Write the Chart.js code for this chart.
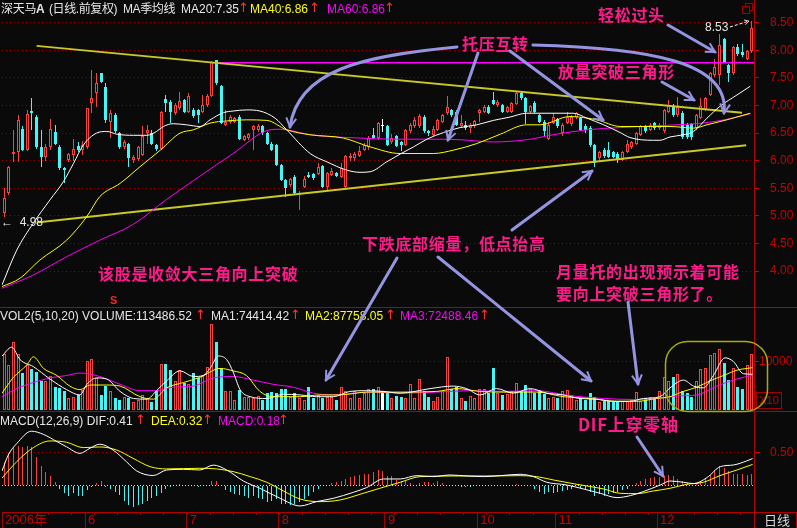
<!DOCTYPE html>
<html>
<head>
<meta charset="utf-8">
<script src="https://cdn.jsdelivr.net/npm/chart.js@4.4.1/dist/chart.umd.min.js"></script>
<style>
  html, body { margin: 0; padding: 0; background: #0a0a0a; width: 797px; height: 528px; overflow: hidden; }
  #wrap { position: relative; width: 797px; height: 528px; }
  canvas { position: absolute; left: 0; }
  .t { position: absolute; white-space: pre; font: 12px "Liberation Sans", "Noto Sans CJK SC", sans-serif; line-height: 14px; color: #e6e6e6; }
  .up { color: #ff3030; font: 13px "DejaVu Sans", sans-serif; line-height: 14px; }
  .ann { position: absolute; white-space: pre; font: bold 16px "Noto Sans CJK SC", sans-serif; line-height: 17px; letter-spacing: 0.7px; color: #ff1a8c; }
  .hl { position: absolute; left: 0; width: 797px; height: 1px; background: #b40000; }
  svg { position: absolute; left: 0; top: 0; }
</style>
</head>
<body>
<div id="wrap">
  <canvas id="price" width="797" height="307" style="top:0"></canvas>
  <canvas id="vol" width="797" height="105" style="top:307px"></canvas>
  <canvas id="macd" width="797" height="116" style="top:412px"></canvas>

  <div class="hl" style="top:307px"></div>
  <div class="hl" style="top:411px"></div>
  <div style="position:absolute;left:754px;top:0;width:1px;height:528px;background:#b40000"></div>
  <div style="position:absolute;left:755px;top:512px;width:41px;height:15px;border-top:1px solid #b40000;border-right:1px solid #b40000"></div>

  <!-- price panel title -->
  <div class="t" style="left:1px;top:2px;letter-spacing:-0.3px">深天马<b>A</b></div>
  <div class="t" style="left:49px;top:2px;letter-spacing:-0.4px">(日线.前复权)</div>
  <div class="t" style="left:123px;top:2px;letter-spacing:-0.4px">MA季均线</div>
  <div class="t" style="left:181px;top:2px">MA20:7.35</div>
  <div class="t up" style="left:238px;top:1px">↑</div>
  <div class="t" style="left:250px;top:2px;color:#ffff00">MA40:6.86</div>
  <div class="t up" style="left:309px;top:1px">↑</div>
  <div class="t" style="left:327px;top:2px;color:#ff00ff">MA60:6.86</div>
  <div class="t up" style="left:384px;top:1px">↑</div>

  <!-- volume panel title -->
  <div class="t" style="left:0px;top:309px">VOL2(5,10,20) VOLUME:113486.52</div>
  <div class="t up" style="left:195px;top:308px">↑</div>
  <div class="t" style="left:211px;top:309px">MA1:74414.42</div>
  <div class="t up" style="left:290px;top:308px">↑</div>
  <div class="t" style="left:305px;top:309px;color:#ffff00">MA2:87758.05</div>
  <div class="t up" style="left:385px;top:308px">↑</div>
  <div class="t" style="left:400px;top:309px;color:#ff00ff">MA3:72488.46</div>
  <div class="t up" style="left:479px;top:308px">↑</div>

  <!-- macd panel title -->
  <div class="t" style="left:0px;top:414px">MACD(12,26,9) DIF:0.41</div>
  <div class="t up" style="left:135px;top:413px">↑</div>
  <div class="t" style="left:151px;top:414px;color:#ffff00">DEA:0.32</div>
  <div class="t up" style="left:202px;top:413px">↑</div>
  <div class="t" style="left:218px;top:414px;color:#ff00ff">MACD:0.18</div>
  <div class="t up" style="left:278px;top:413px">↑</div>

  <div class="t" style="left:1px;top:215px">←  4.98</div>
  <div class="t" style="left:705px;top:20px">8.53</div>
  <div class="t" style="left:110px;top:293px;color:#ff2020;font-weight:bold;font-size:11px">S</div>
  <div class="t" style="left:756px;top:392px;width:24px;height:15px;border:1px solid #a00000;color:#c00000;font-size:11px;line-height:15px;text-align:center">X10</div>
  <div class="t" style="left:764px;top:513px;color:#d8d8d8;font-size:13px;line-height:15px">日线</div>

  <!-- annotations -->
  <div class="ann" style="left:598px;top:6px">轻松过头</div>
  <div class="ann" style="left:462px;top:35px">托压互转</div>
  <div class="ann" style="left:558px;top:63px">放量突破三角形</div>
  <div class="ann" style="left:98px;top:265px">该股是收敛大三角向上突破</div>
  <div class="ann" style="left:362px;top:235px">下跌底部缩量，低点抬高</div>
  <div class="ann" style="left:556px;top:263px">月量托的出现预示着可能</div>
  <div class="ann" style="left:556px;top:285px">要向上突破三角形了。</div>
  <div class="ann" style="left:578px;top:415px;font-size:17px">DIF上穿零轴</div>

  <svg width="797" height="528">
    <defs>
      <marker id="ah" viewBox="0 0 12 12" refX="10" refY="6" markerWidth="4" markerHeight="4" orient="auto">
        <path d="M1,1 L10,6 L1,11" fill="none" stroke="#9494e0" stroke-width="2"/>
      </marker>
      <marker id="ahw" viewBox="0 0 12 12" refX="10" refY="6" markerWidth="6" markerHeight="6" orient="auto">
        <path d="M1,1 L10,6 L1,11" fill="none" stroke="#ffffff" stroke-width="1.5"/>
      </marker>
    </defs>
    <g fill="none" stroke="#9494e0" stroke-width="3" stroke-linecap="round" marker-end="url(#ah)">
      <path d="M457,47 C362,56 298,70 290,127"/>
      <path d="M478,53 L448,140"/>
      <path d="M510,51 L603,120"/>
      <path d="M533,45 C650,48 730,62 724,113"/>
      <path d="M668,25 L715,52"/>
      <path d="M662,82 L694,100"/>
      <path d="M512,230 L592,171"/>
      <path d="M397,258 L326,380"/>
      <path d="M438,257 L591,381"/>
      <path d="M628,302 L638,384"/>
      <path d="M637,437 L663,476"/>
    </g>
    <path d="M730,27 L749,21" stroke="#ffffff" stroke-width="1" stroke-dasharray="3,2" fill="none" marker-end="url(#ahw)"/>
    <rect x="665.5" y="341.5" width="102" height="70" rx="22" ry="22" fill="none" stroke="#aaaa10" stroke-width="1.5"/>
    <rect x="745.5" y="3.5" width="7" height="7" fill="none" stroke="#a00000"/>
    <rect x="742.5" y="6.5" width="7" height="7" fill="#0a0a0a" stroke="#a00000"/>
  </svg>
</div>

<script>
// ---- daily candles, 2006-05 .. 2006-12 ----
const candleOpen = [
  5.05,5.41,6.12,6.16,6.57,6.20,6.90,6.80,6.24,6.07,
  6.25,6.52,6.25,5.86,6.02,6.10,6.27,6.20,6.25,7.04,
  7.22,7.58,7.34,6.71,6.83,6.50,6.25,6.31,6.01,6.03,
  6.10,6.50,6.50,6.28,6.22,7.11,7.07,6.86,6.95,7.10,
  6.89,6.92,6.92,6.89,7.01,7.17,7.82,7.35,6.65,6.71,
  6.71,6.80,6.37,6.41,6.56,6.56,6.62,6.50,6.31,6.28,
  5.92,5.65,5.56,5.71,5.40,5.53,5.74,5.76,5.76,5.90,
  5.53,5.74,5.77,5.71,5.53,6.04,6.04,6.08,6.19,6.25,
  6.47,6.41,6.63,6.63,6.33,6.45,6.34,6.28,6.53,6.62,
  6.62,6.80,6.54,6.47,6.56,6.71,6.86,6.92,6.89,6.62,
  6.65,6.59,6.62,6.87,6.89,6.98,7.10,7.01,7.00,6.89,
  6.89,7.03,7.22,7.13,6.89,7.05,6.83,6.71,6.40,6.69,
  6.75,6.51,6.69,6.66,6.80,6.77,6.62,6.59,6.28,6.04,
  6.20,6.20,6.16,6.13,6.01,6.16,6.25,6.30,6.46,6.62,
  6.56,6.68,6.59,6.53,6.89,6.99,6.83,6.87,6.65,6.66,
  6.59,6.77,6.92,7.19,7.55,7.55,8.20,7.73,7.58,8.06,
  7.97,7.85,7.99
];
const candleHigh = [
  5.50,5.90,6.55,6.82,6.62,6.92,7.13,6.82,6.56,6.30,
  6.76,6.65,6.28,5.88,6.14,6.40,6.33,6.35,6.95,7.65,
  7.58,7.58,7.40,6.92,6.86,6.52,6.38,6.32,6.10,6.27,
  6.62,6.65,6.56,6.30,6.90,7.19,7.10,7.04,7.25,7.12,
  7.22,6.95,6.93,7.19,7.20,7.80,7.82,7.38,6.92,6.82,
  6.79,6.82,6.47,6.50,6.65,6.66,6.64,6.52,6.33,6.30,
  5.94,5.67,5.68,5.75,5.45,5.72,5.80,5.78,5.95,5.93,
  5.80,5.86,5.79,5.95,6.10,6.14,6.16,6.26,6.32,6.45,
  6.60,6.70,6.75,6.65,6.48,6.47,6.36,6.58,6.68,6.80,
  6.85,6.82,6.56,6.62,6.76,6.85,7.17,6.94,6.92,6.82,
  6.72,6.68,6.74,6.94,7.00,7.00,7.25,7.10,7.02,6.99,
  7.06,7.24,7.26,7.15,7.00,7.08,6.85,6.73,6.70,6.86,
  6.78,6.68,6.88,6.82,6.88,6.80,6.66,6.62,6.30,6.18,
  6.23,6.34,6.18,6.15,6.18,6.37,6.36,6.52,6.65,6.64,
  6.68,6.70,6.68,6.94,7.10,7.02,7.16,6.90,6.68,6.68,
  6.85,7.13,7.15,7.60,7.85,8.30,8.22,7.76,8.08,8.12,
  8.12,8.00,8.53
];
const candleLow = [
  4.98,5.38,5.98,5.98,6.18,6.18,6.56,6.22,5.89,6.00,
  6.20,6.28,5.84,5.59,5.98,6.00,6.15,6.10,6.22,6.86,
  6.98,7.40,6.68,6.41,6.50,6.22,6.22,5.89,5.96,6.00,
  6.08,6.30,6.28,6.18,6.20,6.89,6.68,6.83,6.92,6.86,
  6.86,6.78,6.68,6.86,6.98,7.15,7.38,6.66,6.62,6.66,
  6.68,6.38,6.35,6.38,6.19,6.52,6.47,6.28,6.17,5.90,
  5.63,5.34,5.53,5.38,5.11,5.50,5.68,5.65,5.74,5.50,
  5.45,5.72,5.70,5.68,5.50,6.00,6.00,6.06,6.17,6.20,
  6.40,6.38,6.52,6.26,6.30,6.25,6.18,6.26,6.50,6.60,
  6.60,6.50,6.45,6.45,6.54,6.69,6.83,6.80,6.62,6.60,
  6.55,6.50,6.60,6.70,6.86,6.85,7.00,6.98,6.87,6.87,
  6.87,7.00,7.10,6.66,6.86,6.87,6.69,6.45,6.38,6.67,
  6.60,6.45,6.66,6.62,6.76,6.54,6.50,6.25,5.89,5.98,
  6.05,6.04,6.05,5.95,5.99,6.14,6.22,6.28,6.44,6.51,
  6.54,6.56,6.56,6.50,6.86,6.80,6.80,6.40,6.40,6.38,
  6.56,6.75,6.90,7.17,7.52,7.37,7.77,7.43,7.56,7.90,
  7.88,7.82,7.95
];
const candleClose = [
  5.32,5.89,6.16,6.74,6.20,6.85,6.86,6.24,6.07,6.24,
  6.58,6.31,5.86,5.83,6.12,6.22,6.20,6.28,6.95,7.13,
  7.41,7.43,6.74,6.86,6.53,6.25,6.34,6.04,6.07,6.25,
  6.45,6.56,6.31,6.22,6.89,7.05,6.89,7.01,7.09,6.89,
  7.18,6.81,6.83,7.01,7.17,7.79,7.40,6.68,6.71,6.79,
  6.77,6.40,6.45,6.48,6.63,6.63,6.50,6.31,6.19,5.92,
  5.65,5.50,5.66,5.41,5.42,5.66,5.70,5.68,5.88,5.53,
  5.78,5.81,5.72,5.87,6.08,6.08,6.13,6.18,6.28,6.42,
  6.41,6.68,6.63,6.28,6.42,6.27,6.28,6.56,6.64,6.74,
  6.81,6.53,6.50,6.57,6.74,6.83,6.97,6.83,6.65,6.69,
  6.60,6.65,6.72,6.92,6.98,6.87,7.03,7.07,6.89,6.97,
  7.04,7.22,7.13,6.89,6.99,6.89,6.71,6.53,6.65,6.80,
  6.62,6.65,6.79,6.80,6.86,6.56,6.56,6.28,5.95,6.16,
  6.08,6.06,6.07,6.01,6.16,6.31,6.34,6.50,6.62,6.53,
  6.65,6.59,6.65,6.92,7.01,6.83,6.98,6.43,6.43,6.43,
  6.83,6.99,7.13,7.58,7.70,8.10,7.79,7.58,8.06,7.93,
  7.91,7.99,8.40
];
const volume = [
  115000,93500,140600,115000,76800,93500,84800,79000,60900,60900,
  71700,47800,46400,40600,26100,28300,31900,42800,100700,105800,
  66700,31900,50000,39100,24600,21000,28300,24600,17400,22500,
  31900,24600,17400,39100,95700,95700,82600,60900,82600,57200,
  53600,76800,66700,71700,89900,176800,140600,86200,39100,39100,
  21000,42800,28300,28300,24600,30400,21000,35500,37700,35500,
  44900,44900,28300,35500,24600,21000,47800,24600,31900,24600,
  28300,28300,21000,47800,39100,24600,39100,24600,35500,44900,
  44900,47800,39100,35500,24600,30000,28000,24600,53600,26100,
  64500,39100,28300,18800,28300,39100,110100,44900,47800,24600,
  18800,29700,24600,44900,44900,35500,86200,35500,31900,33300,
  39100,57200,39100,52200,44900,35500,42800,33300,24600,28300,
  24600,39100,42800,31900,21000,24600,21000,35500,28300,17400,
  18800,18800,17400,17400,18800,18800,21000,37700,18800,24600,
  28300,26100,39100,68100,60900,69600,75400,40600,35500,28300,
  60900,84100,86200,113000,118800,126000,97800,62300,86200,47800,
  44900,92800,115200
];
const macdBar = [
  0.36,0.49,0.57,0.61,0.59,0.61,0.58,0.44,0.30,0.21,
  0.15,0.05,-0.05,-0.12,-0.16,-0.12,-0.16,-0.17,-0.07,-0.02,
  0.03,0.06,-0.02,-0.05,-0.11,-0.15,-0.24,-0.30,-0.33,-0.30,
  -0.28,-0.24,-0.20,-0.16,-0.12,-0.05,-0.02,-0.01,0.02,0.01,
  0.01,0.00,-0.02,0.01,0.01,0.07,0.07,0.01,-0.07,-0.11,
  -0.14,-0.15,-0.17,-0.19,-0.17,-0.19,-0.21,-0.25,-0.24,-0.21,
  -0.28,-0.29,-0.30,-0.28,-0.25,-0.21,-0.16,-0.11,-0.05,-0.01,
  0.01,0.03,0.05,0.06,0.10,0.13,0.15,0.16,0.18,0.18,
  0.21,0.24,0.22,0.15,0.15,0.08,0.07,0.06,0.03,0.01,
  0.03,0.05,0.05,0.03,0.06,0.04,0.01,0.00,0.00,-0.02,
  -0.02,-0.02,-0.01,0.00,0.00,0.00,0.01,0.00,0.00,0.01,
  0.00,0.02,0.00,0.00,-0.01,-0.05,-0.10,-0.14,-0.11,-0.12,
  -0.11,-0.09,-0.07,-0.05,-0.01,-0.04,-0.07,-0.11,-0.16,-0.14,
  -0.16,-0.14,-0.12,-0.11,-0.07,-0.05,-0.01,0.03,0.07,0.10,
  0.11,0.12,0.13,0.15,0.16,0.15,0.10,0.06,0.03,0.01,
  0.03,0.07,0.11,0.16,0.24,0.29,0.27,0.22,0.18,0.18,
  0.17,0.16,0.18
];

// moving-average lines as [candle index, value]
const ma20Price = [[-0.5,3.75],[2.7,4.38],[6.3,4.87],[9.9,5.29],[12.8,5.62],[15.0,5.95],[17.1,6.28],[20.0,6.50],[22.2,6.53],[24.4,6.48],[28.0,6.46],[30.9,6.46],[33.0,6.53],[34.5,6.62],[36.6,6.67],[39.5,6.65],[42.4,6.62],[44.6,6.74],[47.5,6.87],[49.6,6.90],[52.5,6.92],[55.4,6.90],[58.7,6.77],[61.2,6.56],[66.3,6.13],[69.9,5.98],[74.2,5.83],[77.1,5.79],[79.3,5.80],[82.9,5.98],[85.8,6.12],[88.7,6.25],[91.6,6.39],[95.2,6.51],[98.8,6.60],[102.4,6.65],[106.0,6.73],[109.6,6.79],[113.2,6.86],[116.1,6.86],[123.3,6.86],[126.3,6.77],[129.9,6.65],[133.5,6.51],[135.6,6.42],[140.7,6.37],[142.1,6.37],[144.3,6.43],[147.2,6.47],[149.4,6.53],[152.3,6.77],[155.2,6.99],[158.8,7.19],[161.7,7.35]];
const ma40Price = [[-0.5,3.72],[3.4,3.87],[7.7,4.20],[13.5,4.56],[17.9,4.99],[20.7,5.35],[25.1,5.59],[29.4,5.89],[33.8,6.19],[38.1,6.50],[41.0,6.56],[44.6,6.68],[48.2,6.72],[52.5,6.74],[56.9,6.73],[61.2,6.56],[66.3,6.47],[73.5,6.41],[79.3,6.25],[85.8,6.13],[93.0,6.13],[97.3,6.19],[102.4,6.31],[107.5,6.48],[113.2,6.65],[116.1,6.65],[122.6,6.80],[128.4,6.74],[133.5,6.62],[139.3,6.62],[144.3,6.62],[149.4,6.59],[152.3,6.65],[156.6,6.74],[161.7,6.86]];
const ma60Price = [[-0.5,3.69],[6.3,3.93],[13.5,4.26],[20.7,4.56],[28.0,4.85],[35.2,5.30],[42.4,5.72],[49.6,6.13],[57.6,6.56],[59.8,6.57],[66.3,6.47],[69.9,6.44],[77.1,6.41],[84.3,6.39],[91.6,6.39],[98.8,6.38],[106.0,6.34],[113.2,6.38],[119.0,6.47],[126.3,6.56],[133.5,6.60],[140.7,6.63],[147.9,6.66],[152.3,6.69],[156.6,6.75],[161.7,6.85]];

// hand-drawn lines on the price panel
const upperTrend = [[7.0,8.08],[159.9,6.87]];
const lowerTrend = [[7.0,4.88],[160.8,6.28]];
const resistLine = [[44.6,7.775],[162.5,7.775]];

const volMa5 = [[-0.5,111600],[1.6,129700],[3.4,104300],[6.3,89900],[9.9,64500],[13.5,42800],[16.4,31900],[17.9,53600],[20,66700],[22.2,64500],[25.1,39100],[28,24600],[30.9,23200],[33,40600],[35.2,60900],[38.1,81200],[41,69600],[43.1,71700],[44.6,86200],[46.4,111600],[48.2,104300],[49.6,79000],[51.1,42800],[53.3,28300],[56.9,24600],[60.5,33300],[64.1,31900],[67.7,28300],[71.3,28300],[74.9,39100],[78.5,40600],[82.2,39100],[85.8,35500],[92.3,44900],[97.3,50000],[100.2,44900],[103.1,31900],[106.7,44900],[110.3,35500],[114,44900],[117.6,35500],[121.2,31900],[124.8,24600],[128.4,23200],[132,18800],[135.6,18800],[138.5,24600],[142.1,28300],[144.3,46400],[147.2,62300],[149.4,50000],[151.5,46400],[153.7,71700],[156.2,108000],[158,100700],[160.2,75400],[162.2,74400]];
const volMa10 = [[-0.5,35500],[2,68100],[4.9,93500],[6.3,110000],[8.5,86200],[11.4,71700],[14.2,50000],[16.4,42800],[18.6,52200],[22.2,52200],[25.1,50000],[29.4,28300],[32.3,23200],[35.2,46400],[38.8,57200],[42.4,68100],[46.8,86200],[49.6,81200],[52.5,71700],[55.4,39100],[58.3,28300],[64.1,28300],[68.4,31900],[72.8,31900],[78.5,37700],[85.8,37700],[93.7,39100],[98.1,44900],[103.1,39100],[108.2,37700],[115.4,37700],[121.2,28300],[127,24600],[132.7,18800],[137.1,18800],[141.4,24600],[144.3,28300],[147.2,39100],[150.1,47800],[153,60900],[155.9,71700],[158.8,82600],[162.2,87800]];
const volMa20 = [[-0.5,28300],[2.7,44900],[6.3,57200],[9.9,66700],[13.5,71700],[16.4,76800],[20.7,69600],[25.1,53600],[29.4,40600],[33,40600],[36.6,47800],[41,50000],[45.3,66700],[49.6,69600],[54,62300],[58.3,53600],[62.6,47800],[67,35500],[71.3,31900],[75.7,35500],[80,37700],[85.8,35500],[93.7,37700],[101,40600],[108.2,39100],[115.4,40600],[122.6,30400],[129.9,24600],[137.1,22500],[141.4,24600],[145.7,29700],[150.1,31900],[154.4,50000],[158.8,64500],[162.2,72500]];

const difLine = [[-0.5,0.22],[0.9,0.47],[2.7,0.64],[5.9,0.83],[8.5,0.78],[11.4,0.67],[13.5,0.59],[16.4,0.49],[18.6,0.57],[20.7,0.63],[23.6,0.54],[26.5,0.36],[28.7,0.22],[32.3,0.15],[35.2,0.235],[38.8,0.245],[42.4,0.235],[45.3,0.31],[48.2,0.235],[51.8,0.066],[55.4,-0.046],[59.8,-0.2],[64.1,-0.317],[67.7,-0.25],[71.3,-0.2],[75.7,-0.107],[78.5,-0.036],[82.2,0.097],[85.8,0.097],[89.4,0.148],[93.0,0.133],[96.6,0.158],[100.3,0.143],[103.9,0.133],[107.5,0.148],[111.8,0.169],[114.7,0.133],[117.6,0.046],[121.9,0.005],[125.5,-0.056],[129.2,-0.123],[132.8,-0.189],[135.7,-0.158],[138.5,-0.097],[142.2,0.005],[144.3,0.066],[147.2,0.046],[149.4,0.026],[152.3,0.118],[155.2,0.286],[158.1,0.312],[160.9,0.373],[162.2,0.41]];
const deaLine = [[-0.5,0.11],[2.7,0.363],[6.3,0.578],[9.9,0.68],[13.5,0.66],[17.1,0.578],[20.7,0.588],[24.3,0.542],[27.9,0.414],[31.6,0.286],[35.2,0.251],[42.4,0.261],[46.0,0.251],[49.6,0.21],[53.3,0.133],[56.9,0.046],[60.5,-0.087],[64.1,-0.21],[68.4,-0.251],[72.8,-0.225],[77.1,-0.138],[81.4,-0.046],[85.8,0.046],[90.1,0.133],[97.3,0.143],[104.6,0.143],[111.8,0.148],[115.4,0.133],[119.0,0.082],[124.1,0.015],[129.9,-0.056],[133.5,-0.123],[137.1,-0.128],[140.7,-0.087],[144.3,-0.046],[147.9,0.015],[151.5,0.046],[155.1,0.148],[158.8,0.235],[162.2,0.32]];

const monthStart = [0, 18, 40, 60, 83, 103, 120, 142];
const monthLabels = ['2006年', '6', '7', '8', '9', '10', '11', '12'];
const priceTicks = [4.0, 4.5, 5.0, 5.5, 6.0, 6.5, 7.0, 7.5, 8.0, 8.5];

const RED = '#ff4040', CYAN = '#40f8f8', BG = '#0a0a0a', AXIS = '#c80000', GRID = '#900000';
const FONT = '"Liberation Sans", "Noto Sans CJK SC", sans-serif';
const lastIdx = candleOpen.length - 1;

const dir = i => candleClose[i] > candleOpen[i] ? 1 : (candleClose[i] < candleOpen[i] ? -1 : 0);
const idx = candleOpen.map((_, i) => i);
const candleColor = idx.map(i => dir(i) > 0 ? RED : (dir(i) < 0 ? CYAN : '#ffffff'));
const hollowFill = idx.map(i => dir(i) > 0 ? BG : candleColor[i]);
const hollowBorder = idx.map(i => dir(i) > 0 ? 1 : 0);

const pts = arr => arr.map(p => ({x: p[0], y: p[1]}));
function lineDs(arr, color, width, smooth = true) {
  return {
    type: 'line', data: pts(arr), borderColor: color, borderWidth: width,
    pointRadius: 0, fill: false, order: 0,
    cubicInterpolationMode: smooth ? 'monotone' : 'default', tension: 0
  };
}

// put bars on whole pixels so thin candles stay sharp
const snapBars = {
  id: 'snapBars',
  afterDatasetsUpdate(chart) {
    chart.data.datasets.forEach((ds, di) => {
      const meta = chart.getDatasetMeta(di);
      if (meta.type !== 'bar') return;
      meta.data.forEach(el => {
        el.width = ds.maxBarThickness;
        el.x = Math.floor(el.x) + (ds.maxBarThickness % 2 ? 0.5 : 0);
        let y = Math.round(el.y), b = Math.round(el.base);
        if (y === b && ds.minBarLength) b = y + 1;
        el.y = y; el.base = b;
      });
    });
  }
};

function fitRight(s) { s.width = 43; s.paddingTop = 0; s.paddingBottom = 0; }

const common = {
  responsive: false, animation: false, devicePixelRatio: 1, events: [],
  layout: { padding: { left: 2, right: 0, top: 0, bottom: 0 } },
  plugins: { legend: { display: false }, tooltip: { enabled: false } }
};
const hiddenX = { type: 'linear', min: -0.5, max: lastIdx + 0.5, offset: false, display: false, grid: { offset: false } };

// price panel
new Chart(document.getElementById('price'), {
  type: 'bar',
  data: {
    datasets: [
      lineDs(ma20Price, '#ffffff', 1),
      lineDs(ma40Price, '#ffff00', 1),
      lineDs(ma60Price, '#ff00ff', 1),
      lineDs(upperTrend, '#c8c828', 2, false),
      lineDs(lowerTrend, '#c8c828', 2, false),
      lineDs(resistLine, '#ff00ff', 1.5, false),
      {
        type: 'bar', order: 2, grouped: false,
        data: idx.map(i => ({x: i, y: [candleOpen[i], candleClose[i]]})),
        backgroundColor: hollowFill, borderColor: candleColor, borderWidth: hollowBorder,
        borderSkipped: false, barThickness: 3, maxBarThickness: 3, minBarLength: 1, inflateAmount: 0
      },
      {
        type: 'bar', order: 3, grouped: false,
        data: idx.map(i => ({x: i, y: [candleLow[i], candleHigh[i]]})),
        backgroundColor: candleColor, borderWidth: 0,
        barThickness: 1, maxBarThickness: 1, inflateAmount: 0
      }
    ]
  },
  options: {
    ...common,
    scales: {
      x: hiddenX,
      y: {
        type: 'linear', position: 'right', min: 3.35, max: 8.911, beginAtZero: false,
        afterBuildTicks: s => { s.ticks = priceTicks.map(v => ({value: v})); },
        afterFit: fitRight,
        ticks: { color: AXIS, padding: 11, font: { size: 12, family: FONT }, callback: v => v.toFixed(2) },
        grid: { color: GRID, tickColor: AXIS, tickLength: 5 },
        border: { display: false, dash: [1, 3] }
      }
    }
  },
  plugins: [snapBars]
});

// volume panel
new Chart(document.getElementById('vol'), {
  type: 'bar',
  data: {
    datasets: [
      lineDs(volMa5, '#ffffff', 1),
      lineDs(volMa10, '#ffff00', 1),
      lineDs(volMa20, '#ff00ff', 1),
      {
        type: 'bar', order: 2, grouped: false,
        data: idx.map(i => ({x: i, y: volume[i]})),
        backgroundColor: hollowFill, borderColor: candleColor, borderWidth: hollowBorder,
        borderSkipped: false, barThickness: 3, maxBarThickness: 3, inflateAmount: 0
      }
    ]
  },
  options: {
    ...common,
    scales: {
      x: hiddenX,
      y: {
        type: 'linear', position: 'right', min: -3074, max: 212090, beginAtZero: false,
        afterBuildTicks: s => { s.ticks = [{value: 100000}]; },
        afterFit: fitRight,
        ticks: { color: AXIS, padding: 0, font: { size: 12, family: FONT }, callback: v => String(v / 10) },
        grid: { color: GRID, tickColor: AXIS, tickLength: 5 },
        border: { display: false, dash: [1, 3] }
      }
    }
  },
  plugins: [snapBars]
});

// minor week ticks along the date strip
const dateStrip = {
  id: 'dateStrip',
  afterDraw(chart) {
    const {ctx, chartArea} = chart;
    const x = chart.scales.x;
    ctx.save();
    ctx.strokeStyle = '#a00000';
    ctx.lineWidth = 1;
    for (let i = 0; i <= lastIdx; i += 5) {
      const px = Math.round(x.getPixelForValue(i - 0.5)) + 0.5;
      ctx.beginPath();
      ctx.moveTo(px, chartArea.bottom);
      ctx.lineTo(px, chartArea.bottom + 3);
      ctx.stroke();
    }
    ctx.restore();
  }
};

// MACD panel with the date axis
new Chart(document.getElementById('macd'), {
  type: 'bar',
  data: {
    datasets: [
      lineDs(difLine, '#ffffff', 1),
      lineDs(deaLine, '#ffff00', 1),
      {
        type: 'bar', order: 2, grouped: false,
        data: idx.map(i => ({x: i, y: macdBar[i]})),
        backgroundColor: macdBar.map(v => v >= 0 ? RED : CYAN), borderWidth: 0,
        barThickness: 1, maxBarThickness: 1, inflateAmount: 0
      }
    ]
  },
  options: {
    ...common,
    scales: {
      x: {
        type: 'linear', min: -0.5, max: lastIdx + 0.5, offset: false, position: 'bottom',
        afterBuildTicks: s => { s.ticks = monthStart.map(v => ({value: v - 0.5})); },
        afterFit: s => { s.height = 16; s.paddingLeft = 0; s.paddingRight = 0; },
        ticks: {
          autoSkip: false, maxRotation: 0, align: 'start', padding: -15, labelOffset: 3,
          color: AXIS, font: { size: 13, family: FONT },
          callback: (v, i) => monthLabels[i]
        },
        grid: { offset: false, drawOnChartArea: false, drawTicks: true, tickLength: 16, color: '#a00000' },
        border: { display: true, color: '#b40000' }
      },
      y: {
        type: 'linear', position: 'right', min: -0.4095, max: 1.124, beginAtZero: false,
        afterBuildTicks: s => { s.ticks = [{value: 0}, {value: 0.5}]; },
        afterFit: fitRight,
        ticks: { color: AXIS, padding: 10, font: { size: 12, family: FONT }, callback: v => v === 0 ? '' : v.toFixed(2) },
        grid: {
          color: c => c.tick && c.tick.value === 0 ? '#d8d8d8' : GRID,
          tickColor: c => c.tick && c.tick.value === 0 ? 'rgba(0,0,0,0)' : AXIS,
          tickLength: 6
        },
        border: { display: false, dash: c => c.tick && c.tick.value === 0 ? [1, 2] : [1, 3] }
      }
    }
  },
  plugins: [snapBars, dateStrip]
});
</script>
</body>
</html>
